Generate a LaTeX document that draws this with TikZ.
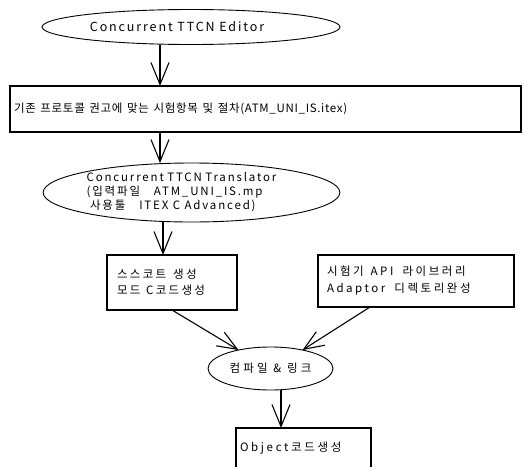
\documentclass[tikz,border=0pt]{standalone}
\usepackage{fontspec}
\newfontfamily\kr{Noto Sans CJK KR}
\usetikzlibrary{shapes.geometric,arrows.meta}
\newcommand{\krf}[3]{\kr\fontsize{#1}{#2}\selectfont\addfontfeature{LetterSpace=#3}}
\newcommand{\gap}[1]{\hspace*{#1em}}
\begin{document}
\begin{tikzpicture}[x=1pt,y=-1pt,
  every node/.style={inner sep=0pt, outer sep=0pt},
  ell/.style={ellipse, draw, line width=0.9pt},
  box/.style={rectangle, draw, line width=1.1pt},
  arr/.style={line width=1.1pt, -{Straight Barb[length=22pt,width=18pt,line width=1.1pt]}},
  sarr/.style={line width=1.1pt, -{Straight Barb[length=20pt,width=16pt,line width=1.1pt]}}
]
\useasboundingbox (0,0) rectangle (529,466);

\node[ell, minimum width=298pt, minimum height=35pt, font=\krf{12.5}{15}{15}] (e1) at (191,27) {Concurrent TTCN Editor\hspace*{28pt}};

\node[box, minimum width=511pt, minimum height=46pt, inner xsep=4pt, text width=503pt, align=left,
      font=\krf{11.5}{14}{6}] (b1) at (265.5,109)
  {기존\gap{0.4}프로토콜\gap{0.4}권고에\gap{0.4}맞는\gap{0.4}시험항목\gap{0.4}및\gap{0.4}절차(ATM\_UNI\_IS.itex)};

\node[ell, minimum width=293pt, minimum height=59pt, align=left, font=\krf{11.5}{14}{16}] (e2) at (191.5,192.5)
  {Concurrent\gap{0.3}TTCN\gap{0.3}Translator\hspace*{20pt}\\
   (입력파일\gap{1.2}ATM\_UNI\_IS.mp\\
   \gap{0.3}사용툴\gap{1.2}ITEX C Advanced)};

\node[box, minimum width=130pt, minimum height=55pt, inner xsep=10pt, text width=110pt, align=left,
      font=\krf{11.5}{16}{20}] (b2) at (172,282.5)
  {스스코트\gap{0.6}생성\\모드\gap{0.5}C코드생성};

\node[box, minimum width=196pt, minimum height=52pt, inner xsep=9pt, text width=178pt, align=left,
      font=\krf{11.5}{17}{22}] (b3) at (416,281)
  {시험기\gap{0.6}API\gap{0.8}라이브러리\\Adaptor\gap{0.8}디렉토리완성};

\node[ell, minimum width=125pt, minimum height=43pt, font=\krf{11.5}{14}{28}] (e3) at (270.5,368.5)
  {컴파일\gap{0.5}\&\gap{0.5}링크};

\node[box, minimum width=135pt, minimum height=40pt, inner xsep=4pt, text width=127pt, align=left,
      font=\krf{11.5}{14}{23}] (b4) at (303.5,448)
  {Object코드생성};

\draw[arr] ([xshift=-31pt]e1.south) -- ([xshift=-31pt]e1.south |- b1.north);
\draw[arr] ([xshift=-31.5pt]e2.north |- b1.south) -- ([xshift=-31.5pt]e2.north);
\draw[arr] ([xshift=-9pt]b2.north |- e2.south) -- ([xshift=-9pt]b2.north);
\draw[sarr] (b2.south) -- (e3.150);
\draw[sarr] ([xshift=-46pt]b3.south) -- (e3.30);
\draw[arr] ([xshift=-22.5pt]b4.north |- e3.south) -- ([xshift=-22.5pt]b4.north);
\end{tikzpicture}
\end{document}
